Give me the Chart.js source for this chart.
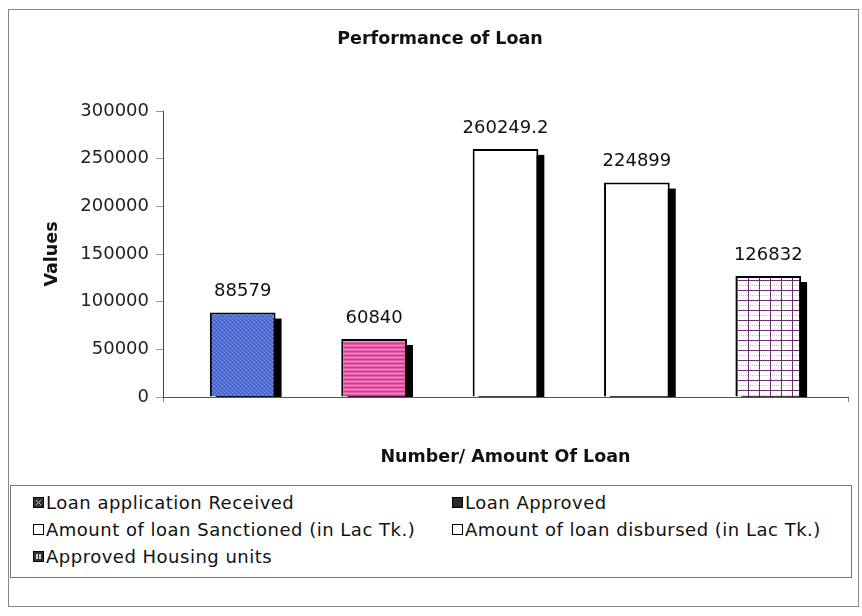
<!DOCTYPE html>
<html>
<head>
<meta charset="utf-8">
<title>Performance of Loan</title>
<script src="https://cdn.jsdelivr.net/npm/chart.js@4.4.1/dist/chart.umd.min.js"></script>
<style>
  html, body { margin: 0; padding: 0; background: #fff; }
  #wrap { position: relative; width: 862px; height: 616px; font-family: 'DejaVu Sans', sans-serif; }
  #frame { position: absolute; left: 8px; top: 9px; width: 851px; height: 598px; border: 1px solid #888; box-sizing: border-box; pointer-events: none; }
  #loanChart { position: absolute; left: 0; top: 0; }
  #legend { position: absolute; left: 10px; top: 485px; width: 842px; height: 93px; border: 1px solid #777; box-sizing: border-box; background: #fff; }
  .item { position: absolute; height: 22px; display: flex; align-items: center; font-size: 18px; letter-spacing: 0.5px; color: #111; white-space: nowrap; }
  .item canvas { margin-right: 2px; }
</style>
</head>
<body>
<div id="wrap">
  <canvas id="loanChart" width="862" height="616"></canvas>
  <div id="legend"></div>
  <div id="frame"></div>
</div>
<script>
const categories = [
  'Loan application Received',
  'Loan Approved',
  'Amount of loan Sanctioned (in Lac Tk.)',
  'Amount of loan disbursed (in Lac Tk.)',
  'Approved Housing units'
];
const values = [88579, 60840, 260249.2, 224899, 126832];
const yTicks = [0, 50000, 100000, 150000, 200000, 250000, 300000];
const fills = ['dots', 'stripes', 'plain', 'plain', 'grid'];

// small tiles used as canvas patterns for the bar faces
function makeTile(kind) {
  const c = document.createElement('canvas');
  const g = c.getContext('2d');
  if (kind === 'dots') {
    c.width = 4; c.height = 4;
    g.fillStyle = '#4d70df';
    g.fillRect(0, 0, 4, 4);
    g.fillStyle = '#7d97ee';
    g.fillRect(0, 0, 1, 1);
    g.fillRect(2, 2, 1, 1);
    g.fillStyle = '#3b5cc8';
    g.fillRect(2, 0, 1, 1);
    g.fillRect(0, 2, 1, 1);
  } else if (kind === 'stripes') {
    c.width = 4; c.height = 4;
    g.fillStyle = '#e05aa6';
    g.fillRect(0, 0, 4, 4);
    g.fillStyle = '#f291c8';
    g.fillRect(0, 1, 4, 1);
    g.fillStyle = '#c8468e';
    g.fillRect(0, 3, 4, 1);
  } else if (kind === 'grid') {
    c.width = 11; c.height = 10;
    g.fillStyle = '#fff';
    g.fillRect(0, 0, 11, 10);
    g.fillStyle = '#c9c2cc';
    for (let i = 0; i < 11; i += 2) g.fillRect(i, 5, 1, 1);
    g.fillStyle = '#6b2f70';
    g.fillRect(0, 0, 11, 1);
    g.fillRect(0, 0, 1, 10);
  } else {
    c.width = 1; c.height = 1;
    g.fillStyle = '#fff';
    g.fillRect(0, 0, 1, 1);
  }
  return c;
}

const ctx = document.getElementById('loanChart').getContext('2d');

const datasets = categories.map((name, i) => ({
  label: name,
  data: [values[i]],
  backgroundColor: ctx.createPattern(makeTile(fills[i]), 'repeat'),
  borderColor: '#000',
  borderWidth: 2,
  borderSkipped: 'start',
  clip: 0
}));

// solid shadow offset to the lower right of every bar, clipped at the axis
const barShadow = {
  id: 'barShadow',
  beforeDatasetsDraw(chart) {
    const c = chart.ctx;
    const a = chart.chartArea;
    c.save();
    c.beginPath();
    c.rect(a.left, a.top, a.right - a.left, a.bottom - a.top);
    c.clip();
    c.fillStyle = '#000';
    chart.data.datasets.forEach((ds, i) => {
      const bar = chart.getDatasetMeta(i).data[0];
      const p = bar.getProps(['x', 'y', 'width', 'base'], true);
      c.fillRect(p.x - p.width / 2 + 6, p.y + 6, p.width, p.base - p.y);
    });
    c.restore();
  }
};

// value printed above each bar
const valueLabels = {
  id: 'valueLabels',
  afterDatasetsDraw(chart) {
    const c = chart.ctx;
    c.save();
    c.font = '18px "DejaVu Sans"';
    c.fillStyle = '#111';
    c.textAlign = 'center';
    c.textBaseline = 'middle';
    chart.data.datasets.forEach((ds, i) => {
      const bar = chart.getDatasetMeta(i).data[0];
      c.fillText(String(ds.data[0]), bar.x, bar.y - 21);
    });
    c.restore();
  }
};

new Chart(ctx, {
  type: 'bar',
  data: { labels: [''], datasets: datasets },
  options: {
    responsive: false,
    animation: false,
    events: [],
    categoryPercentage: 0.959,
    barPercentage: 0.5,
    layout: { padding: { left: 32, right: 14, top: 0, bottom: 0 } },
    plugins: {
      legend: { display: false },
      tooltip: { enabled: false },
      title: {
        display: true,
        text: 'Performance of Loan',
        color: '#111',
        font: { family: 'DejaVu Sans', size: 17.5, weight: 'bold' },
        padding: { top: 29, bottom: 61 }
      }
    },
    scales: {
      x: {
        grid: { drawOnChartArea: false, tickLength: 5, color: '#888' },
        border: { color: '#555' },
        ticks: { display: false },
        title: {
          display: true,
          text: 'Number/ Amount Of Loan',
          color: '#111',
          font: { family: 'DejaVu Sans', size: 17.5, weight: 'bold' },
          padding: { top: 0, bottom: 148 }
        },
        afterFit(scale) { scale.height = 219; }
      },
      y: {
        min: 0,
        max: 300000,
        afterBuildTicks(scale) {
          scale.ticks = yTicks.map((v) => ({ value: v }));
        },
        ticks: {
          callback: (v) => String(v),
          color: '#222',
          padding: 7,
          font: { family: 'DejaVu Sans', size: 18 }
        },
        grid: { drawOnChartArea: false, tickLength: 7, color: '#999' },
        border: { color: '#444' },
        title: {
          display: true,
          text: 'Values',
          color: '#111',
          font: { family: 'DejaVu Sans', size: 17.5, weight: 'bold' },
          padding: { top: 10, bottom: 0 }
        },
        afterFit(scale) { scale.width = 131; }
      }
    }
  },
  plugins: [barShadow, valueLabels]
});

// legend in two columns, swatches drawn with plain canvas
function drawSwatch(kind) {
  const s = document.createElement('canvas');
  s.width = 11; s.height = 11;
  const g = s.getContext('2d');
  g.fillStyle = '#fff';
  g.fillRect(0, 0, 11, 11);
  if (kind === 'dots') {
    g.fillStyle = '#333';
    g.fillRect(0, 0, 11, 11);
    g.fillStyle = '#bbb';
    for (let i = 3; i < 8; i++) { g.fillRect(i, i, 1, 1); g.fillRect(10 - i, i, 1, 1); }
  } else if (kind === 'stripes') {
    g.fillStyle = '#2a2a2a';
    g.fillRect(0, 0, 11, 11);
    g.fillStyle = '#888';
    g.fillRect(3, 0, 5, 1);
  } else if (kind === 'grid') {
    g.fillStyle = '#333';
    g.fillRect(0, 0, 11, 11);
    g.fillStyle = '#ccc';
    g.fillRect(3, 3, 2, 5);
    g.fillRect(6, 3, 2, 5);
  }
  g.strokeStyle = '#000';
  g.lineWidth = 1;
  g.strokeRect(0.5, 0.5, 10, 10);
  return s;
}

const legendEl = document.getElementById('legend');
const legendCols = [22, 441];
const legendRows = [5, 32, 59];
categories.forEach((name, i) => {
  const item = document.createElement('div');
  item.className = 'item';
  item.style.left = legendCols[i % 2] + 'px';
  item.style.top = legendRows[Math.floor(i / 2)] + 'px';
  item.appendChild(drawSwatch(fills[i]));
  item.appendChild(document.createTextNode(name));
  legendEl.appendChild(item);
});
</script>
</body>
</html>
